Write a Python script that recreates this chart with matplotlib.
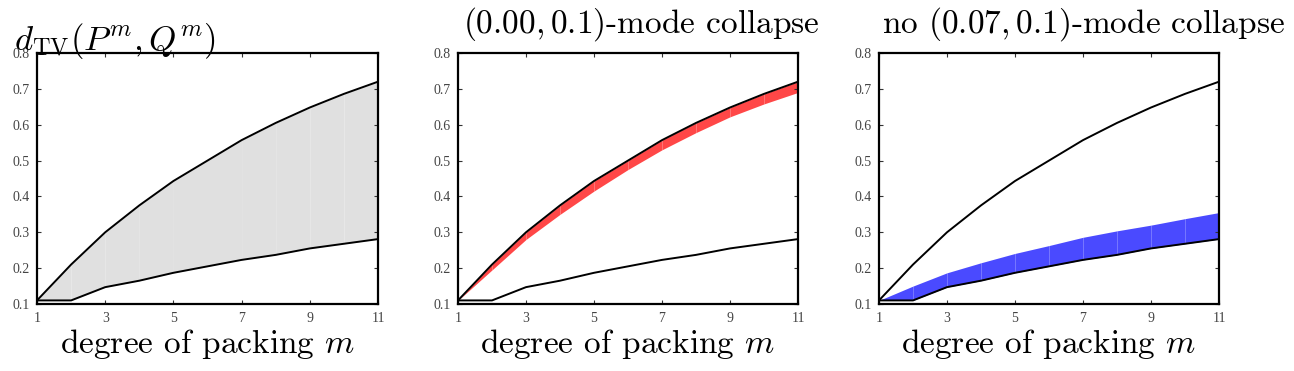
import matplotlib
matplotlib.use("Agg")
import matplotlib.pyplot as plt

plt.rcParams["mathtext.fontset"] = "cm"

M = [1, 2, 3, 4, 5, 6, 7, 8, 9, 10, 11]
UPPER = [0.11, 0.21, 0.30, 0.375, 0.443, 0.50, 0.557, 0.605, 0.648, 0.686, 0.72]
LOWER = [0.11, 0.11, 0.147, 0.165, 0.187, 0.205, 0.223, 0.237, 0.255, 0.268, 0.281]
RED_LOW = [0.11, 0.195, 0.28, 0.35, 0.415, 0.475, 0.53, 0.578, 0.622, 0.658, 0.69]
BLUE_TOP = [0.11, 0.15, 0.187, 0.215, 0.241, 0.263, 0.286, 0.304, 0.32, 0.338, 0.355]

XTICKS = [1, 3, 5, 7, 9, 11]
YTICKS = [0.1, 0.2, 0.3, 0.4, 0.5, 0.6, 0.7, 0.8]
TITLES = ["$(0.00, 0.1)$-mode collapse", "no $(0.07, 0.1)$-mode collapse"]

W, H = 1294, 371
fig = plt.figure(figsize=(W / 100, H / 100), dpi=100)


def px_axes(x0, x1, y0, y1):
    return fig.add_axes([x0 / W, 1 - y1 / H, (x1 - x0) / W, (y1 - y0) / H])


def fill_segments(ax, lo, hi, color):
    # filled piecewise, like the original export (faint seams between pieces)
    for i in range(len(M) - 1):
        ax.fill_between(M[i:i + 2], lo[i:i + 2], hi[i:i + 2], color=color, lw=0)


axes = [px_axes(37, 378, 53, 304), px_axes(458, 798, 53, 304), px_axes(879, 1219, 53, 304)]

fill_segments(axes[0], LOWER, UPPER, "#e0e0e0")
fill_segments(axes[1], RED_LOW, UPPER, "#ff4747")
fill_segments(axes[2], LOWER, BLUE_TOP, "#4a4aff")

for ax in axes:
    ax.plot(M, UPPER, color="black", lw=1.4)
    ax.plot(M, LOWER, color="black", lw=1.4)
    ax.set_xlim(1, 11)
    ax.set_ylim(0.1, 0.8)
    ax.set_xticks(XTICKS)
    ax.set_yticks(YTICKS)
    ax.set_xticklabels([str(t) for t in XTICKS], family="Liberation Serif", fontsize=10)
    ax.set_yticklabels([f"{t:.1f}" for t in YTICKS], family="Liberation Serif", fontsize=10)
    ax.tick_params(direction="in", top=True, right=True, length=3, width=0.8,
                   colors="#333333", labelcolor="#444444")
    ax.tick_params(axis="x", pad=6)
    ax.tick_params(axis="y", pad=5)
    for s in ax.spines.values():
        s.set_linewidth(1.6)
    ax.set_xlabel("degree of packing $m$", family="cmr10", fontsize=24, labelpad=1)

fig.text(14 / W, 1 - 50 / H, r"$d_{\rm TV}(P^m, Q^m)$", fontsize=25, va="baseline", ha="left")
fig.text(641 / W, 1 - 33 / H, TITLES[0], family="cmr10", fontsize=24, va="baseline", ha="center")
fig.text(1083 / W, 1 - 33 / H, TITLES[1], family="cmr10", fontsize=24, va="baseline", ha="center")

fig.savefig("out.png", dpi=100)
